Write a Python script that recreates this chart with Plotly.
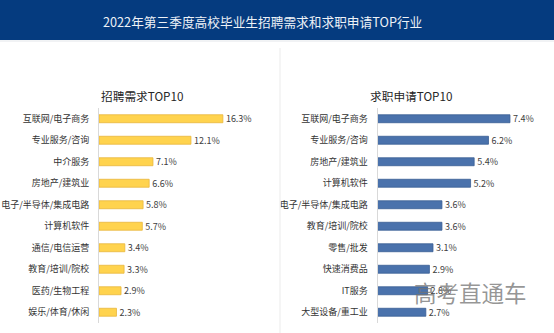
import plotly.graph_objects as go

W, H = 554, 333

# Left panel: recruitment demand
demand_categories = ["互联网/电子商务", "专业服务/咨询", "中介服务", "房地产/建筑业", "电子/半导体/集成电路",
                     "计算机软件", "通信/电信运营", "教育/培训/院校", "医药/生物工程", "娱乐/体育/休闲"]
demand_values = [16.3, 12.1, 7.1, 6.6, 5.8, 5.7, 3.4, 3.3, 2.9, 2.3]

# Right panel: job applications
apply_categories = ["互联网/电子商务", "专业服务/咨询", "房地产/建筑业", "计算机软件", "电子/半导体/集成电路",
                    "教育/培训/院校", "零售/批发", "快速消费品", "IT服务", "大型设备/重工业"]
apply_values = [7.4, 6.2, 5.4, 5.2, 3.6, 3.6, 3.1, 2.9, 2.8, 2.7]

title_text = "2022年第三季度高校毕业生招聘需求和求职申请TOP行业"
left_title = "招聘需求TOP10"
right_title = "求职申请TOP10"
watermark = "高考直通车"

FONT = "Noto Sans CJK SC, Microsoft YaHei, sans-serif"


def px_x(p):
    return p / W


def px_y(p):
    return 1 - p / H


fig = go.Figure()

fig.add_trace(go.Bar(
    x=demand_values, y=demand_categories, orientation="h",
    xaxis="x", yaxis="y", width=0.37,
    marker=dict(color="#FFD34E", line=dict(color="#E8B63C", width=0.8)),
    texttemplate="%{x:.1f}%", textposition="outside", constraintext="none",
    textfont=dict(size=9, color="#404040", family=FONT),
    cliponaxis=False, hoverinfo="skip",
))

fig.add_trace(go.Bar(
    x=apply_values, y=apply_categories, orientation="h",
    xaxis="x2", yaxis="y2", width=0.37,
    marker=dict(color="#4A72AC", line=dict(color="#3A5E94", width=0.8)),
    texttemplate="%{x:.1f}%", textposition="outside", constraintext="none",
    textfont=dict(size=9, color="#404040", family=FONT),
    cliponaxis=False, hoverinfo="skip",
))

y_dom = [px_y(323), px_y(108)]
yaxis_common = dict(
    domain=y_dom, autorange="reversed", showline=True, linecolor="#D9D9D9",
    linewidth=1, ticks="", showgrid=False, ticklabelstandoff=7,
    tickfont=dict(size=9, color="#333333", family=FONT),
)
xaxis_common = dict(visible=False, showgrid=False, zeroline=False)

fig.update_layout(
    width=W, height=H,
    margin=dict(l=0, r=0, t=0, b=0),
    paper_bgcolor="white", plot_bgcolor="white",
    showlegend=False,
    xaxis=dict(domain=[px_x(99), px_x(270)], range=[0, 171 / 7.6], anchor="y", **xaxis_common),
    xaxis2=dict(domain=[px_x(377.5), px_x(545)], range=[0, 167.5 / 17.9], anchor="y2", **xaxis_common),
    yaxis=dict(anchor="x", **yaxis_common),
    yaxis2=dict(anchor="x2", **yaxis_common),
    shapes=[
        # header band
        dict(type="rect", xref="paper", yref="paper", x0=0, x1=1, y0=px_y(40), y1=1,
             fillcolor="#053B7F", line=dict(width=0), layer="below"),
        dict(type="line", xref="paper", yref="paper", x0=0, x1=1, y0=px_y(41), y1=px_y(41),
             line=dict(color="#E3E6EA", width=1)),
        # panel separator
        dict(type="line", xref="paper", yref="paper", x0=px_x(280), x1=px_x(280), y0=0, y1=px_y(48),
             line=dict(color="#EBEBEB", width=1)),
    ],
    annotations=[
        dict(text=title_text, xref="paper", yref="paper", x=px_x(262), y=px_y(21),
             xanchor="center", yanchor="middle", showarrow=False,
             font=dict(size=12.7, color="#EEF2F7", family=FONT)),
        dict(text=left_title, xref="paper", yref="paper", x=px_x(142), y=px_y(95),
             xanchor="center", yanchor="middle", showarrow=False,
             font=dict(size=11.7, color="#262626", family=FONT)),
        dict(text=right_title, xref="paper", yref="paper", x=px_x(411), y=px_y(95),
             xanchor="center", yanchor="middle", showarrow=False,
             font=dict(size=11.7, color="#262626", family=FONT)),
        dict(text=watermark, xref="paper", yref="paper", x=px_x(470), y=px_y(292),
             xanchor="center", yanchor="middle", showarrow=False,
             font=dict(size=22.5, color="rgba(115,115,115,0.75)", family=FONT)),
    ],
)

fig.write_html("out.html")
